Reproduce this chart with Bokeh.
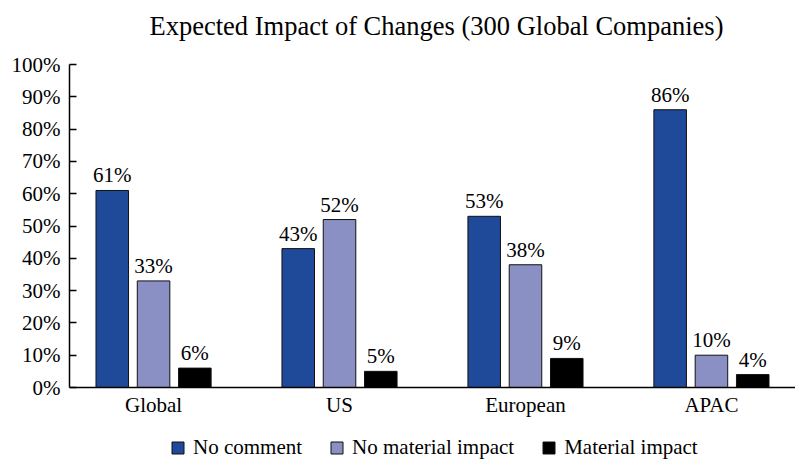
from bokeh.plotting import figure
from bokeh.models import FactorRange, Range1d, PrintfTickFormatter, Legend, LegendItem, ColumnDataSource, FixedTicker, Label
from bokeh.transform import dodge
from bokeh.core.properties import value
from bokeh.embed import file_html
from bokeh.resources import INLINE

categories = ["Global", "US", "European", "APAC"]
no_comment = [61, 43, 53, 86]
no_material = [33, 52, 38, 10]
material = [6, 5, 9, 4]
series_names = ["No comment", "No material impact", "Material impact"]
colors = ["#1F4A9A", "#8A8FC4", "#000000"]
y_ticks = [0, 10, 20, 30, 40, 50, 60, 70, 80, 90, 100]
title_text = "Expected Impact of Changes (300 Global Companies)"

FONT = "Liberation Serif"

src = ColumnDataSource(dict(
    cat=categories,
    a=no_comment, b=no_material, c=material,
    la=[f"{v}%" for v in no_comment],
    lb=[f"{v}%" for v in no_material],
    lc=[f"{v}%" for v in material],
))

# frame spans the full figure height; value axis covers 0..100 over 323 px
PX_PER_UNIT = 3.23
xr = FactorRange(*categories, range_padding=-0.048, range_padding_units="absolute")
yr = Range1d(-73 / PX_PER_UNIT, 100 + 64 / PX_PER_UNIT)
p = figure(x_range=xr, y_range=yr,
           frame_width=726, frame_height=460, output_backend="svg", toolbar_location=None,
           min_border_left=69, min_border_right=0, min_border_top=0, min_border_bottom=0)

w = 0.175
offs = [-0.222, 0.0, 0.222]
keys = ["a", "b", "c"]
labs = ["la", "lb", "lc"]
renderers = []
for k, lk, o, col in zip(keys, labs, offs, colors):
    r = p.vbar(x=dodge("cat", o, range=p.x_range), top=k, width=w, source=src,
               fill_color=col, line_color="#111111", line_width=1)
    renderers.append(r)
    p.text(x=dodge("cat", o, range=p.x_range), y=k, text=lk, source=src,
           text_align="center", text_baseline="bottom", y_offset=-3,
           text_font=value(FONT), text_font_size="21px", text_color="#000000")

p.add_layout(Label(x=80, y=435, x_units="screen", y_units="screen", text=title_text,
                   text_align="left", text_baseline="middle",
                   text_font=FONT, text_font_size="26.5px", text_color="#000000"))

p.xgrid.visible = False
p.ygrid.visible = False
p.outline_line_color = None

p.yaxis.ticker = FixedTicker(ticks=y_ticks)
p.yaxis.bounds = (0, 100)
p.yaxis.formatter = PrintfTickFormatter(format="%d%%")
p.yaxis.major_tick_in = 7
p.yaxis.major_tick_out = 0
p.yaxis.minor_tick_line_color = None
p.xaxis.fixed_location = 0
p.xaxis.major_tick_in = 0
p.xaxis.major_tick_out = 0
p.xaxis.minor_tick_in = 0
p.xaxis.minor_tick_out = 0
p.xaxis.major_tick_line_color = None
p.xaxis.minor_tick_line_color = None
for ax in (p.xaxis, p.yaxis):
    ax.axis_line_color = "#000000"
    ax.axis_line_width = 1.5
    ax.major_tick_line_width = 1.5
    ax.major_label_text_font = FONT
    ax.major_label_text_font_size = "21px"
    ax.major_label_text_color = "#000000"
p.yaxis.major_label_standoff = 9
p.xaxis.major_label_standoff = 5

legend = Legend(items=[LegendItem(label=n, renderers=[r]) for n, r in zip(series_names, renderers)],
                orientation="horizontal", location=(101, 0),
                label_text_font=FONT, label_text_font_size="21px", label_text_color="#000000",
                glyph_width=15, glyph_height=15, spacing=27, label_standoff=8,
                border_line_color=None, background_fill_alpha=0, padding=0, margin=0)
p.add_layout(legend, "center")

open("out.html", "w").write(file_html(p, INLINE))
